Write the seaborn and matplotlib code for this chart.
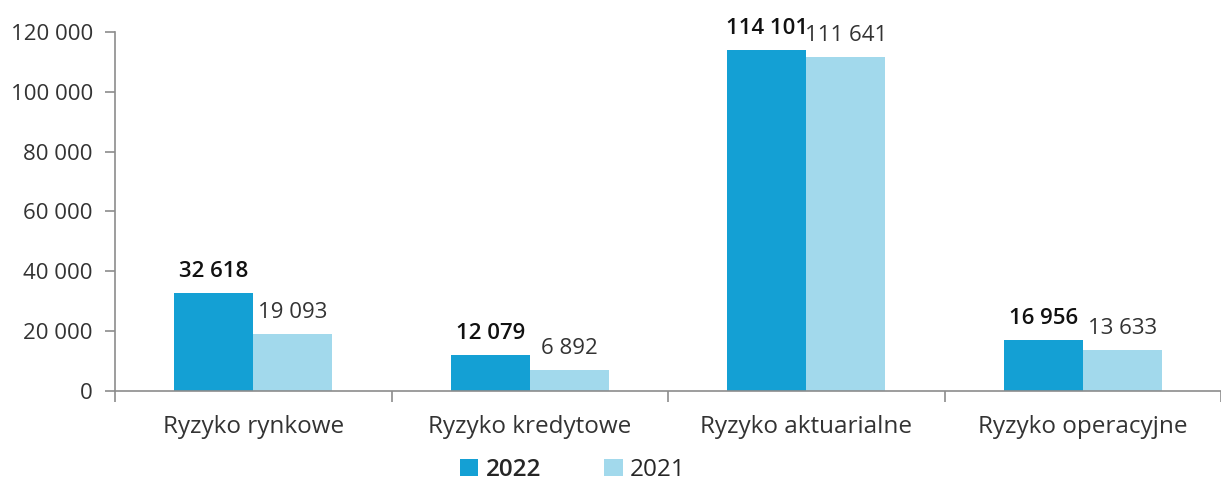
import numpy as np
import pandas as pd
import seaborn as sns
import matplotlib.pyplot as plt
from matplotlib.ticker import FuncFormatter

# Chart data
categories = ["Ryzyko rynkowe", "Ryzyko kredytowe", "Ryzyko aktuarialne", "Ryzyko operacyjne"]
values_2022 = [32618, 12079, 114101, 16956]
values_2021 = [19093, 6892, 111641, 13633]
years = ["2022", "2021"]

df = pd.DataFrame({
    "category": categories * 2,
    "year": [years[0]] * 4 + [years[1]] * 4,
    "value": values_2022 + values_2021,
})

sns.set_style("white")
plt.rcParams["font.family"] = ["Open Sans", "DejaVu Sans"]

fig = plt.figure(figsize=(12.21, 4.8), dpi=100)
ax = fig.add_axes([0.0942, 0.1854, 0.9058, 0.748])

palette = {"2022": "#14a0d4", "2021": "#a2d9ec"}
sns.barplot(data=df, x="category", y="value", hue="year", palette=palette,
            width=0.57, gap=0, saturation=1, linewidth=0, ax=ax, legend=True)

ax.set_ylim(0, 120000)
ax.set_xlim(-0.5, 3.5)
ax.set_yticks(np.arange(0, 120001, 20000))
ax.yaxis.set_major_formatter(FuncFormatter(lambda v, p: f"{int(v):,}".replace(",", " ")))
ax.set_xlabel("")
ax.set_ylabel("")

for s in ["top", "right"]:
    ax.spines[s].set_visible(False)
for s in ["left", "bottom"]:
    ax.spines[s].set_color("#8c8c8c")
    ax.spines[s].set_linewidth(1.2)

ax.tick_params(axis="y", length=7, color="#8c8c8c", width=1.2, labelsize=16,
               labelcolor="#333333", pad=9, left=True)
ax.tick_params(axis="x", which="major", length=0, labelsize=17.5,
               labelcolor="#333333", pad=17)
ax.set_xticks(np.arange(-0.5, 4, 1), minor=True)
ax.tick_params(axis="x", which="minor", length=8, color="#8c8c8c", width=1.2,
               bottom=True)

# value labels
for i, cont in enumerate(ax.containers):
    bold = i == 0
    for bar, v in zip(cont, [values_2022, values_2021][i]):
        ax.annotate(f"{v:,}".replace(",", " "),
                    (bar.get_x() + bar.get_width() / 2, bar.get_height()),
                    xytext=(0, 8), textcoords="offset points",
                    ha="center", va="bottom", fontsize=16,
                    fontweight="semibold" if bold else "normal",
                    color="#111111" if bold else "#333333")

leg = ax.legend(loc="center", bbox_to_anchor=(0.414, -0.22),
                ncol=2, frameon=False, fontsize=17.5, handlelength=0.75,
                handleheight=0.75, columnspacing=2.6, handletextpad=0.3)
leg.get_texts()[0].set_fontweight("semibold")

fig.savefig("out.png", dpi=100)
